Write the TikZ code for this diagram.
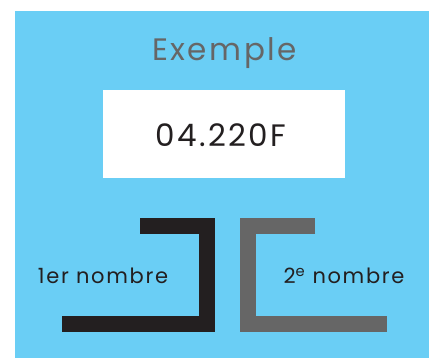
\documentclass[tikz,border=0pt]{standalone}
\usepackage{fontspec}
\setmainfont{Poppins}[LetterSpace=8]
\usepackage{tikz}
\definecolor{fond}{RGB}{106,206,245}
\definecolor{noir}{RGB}{35,31,32}
\definecolor{gris}{RGB}{102,102,102}
\begin{document}
\begin{tikzpicture}[x=1pt,y=-1pt,line width=16pt,line join=miter,txt/.style={inner sep=0pt,anchor=base},lab/.style={txt,font=\fontsize{21}{21}\selectfont,text=noir}]
\useasboundingbox (0,0) rectangle (429,358);
\fill[fond] (15,11) rectangle (429,358);
\fill[white] (103,90) rectangle (345,178);
\node[txt,font=\fontsize{31}{31}\selectfont,text=gris] (titre) at (224.5,61) {Exemple};
\node[txt,font=\fontsize{31}{31}\selectfont,text=noir] (code) at (221,146.5) {04.220F};
\draw[noir] (140,226) -- (207,226) -- (207,324.5) -- (62,324.5);
\draw[gris] (315,226) -- (248,226) -- (248,324.5) -- (387,324.5);
\node[lab] (n1) at (103,284) {1er nombre};
\node[lab] (n2) at (344,284) {2\textsuperscript{e} nombre};
\end{tikzpicture}
\end{document}
